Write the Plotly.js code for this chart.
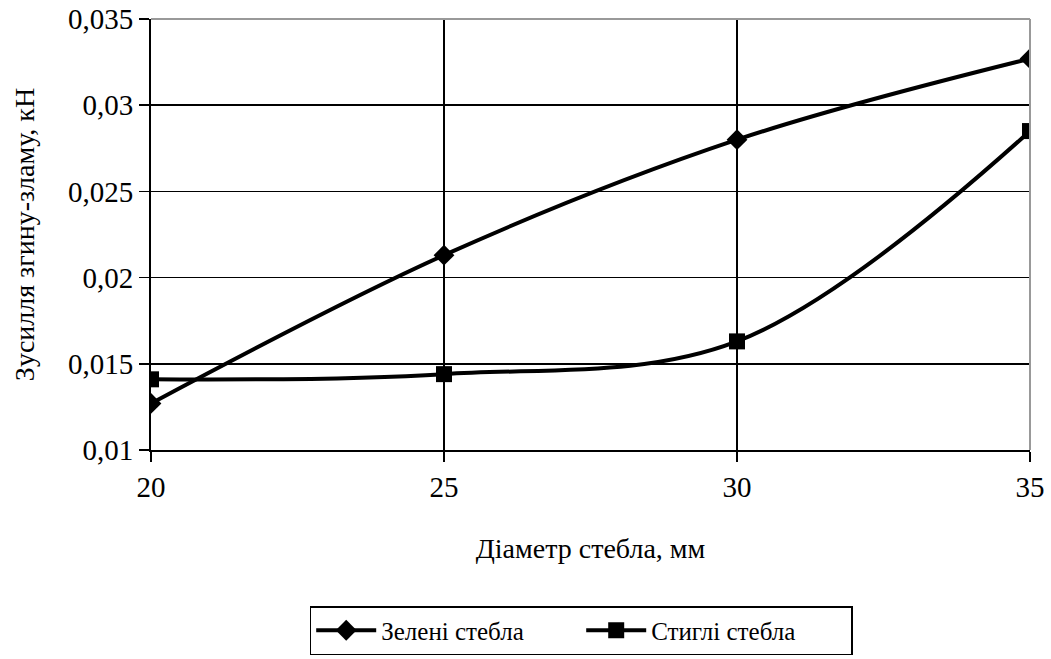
<!DOCTYPE html>
<html><head><meta charset="utf-8">
<script src="https://cdn.plot.ly/plotly-3.0.1.min.js"></script>
<style>
html,body{margin:0;padding:0;background:#fff;}
</style>
</head><body>
<div id="chart" style="width:1051px;height:659px;"></div>
<script>
const diameters = [20, 25, 30, 35];
const greenStems = [0.0127, 0.0213, 0.0280, 0.0327];
const matureStems = [0.0141, 0.0144, 0.0163, 0.0285];
const yTickVals = [0.01, 0.015, 0.02, 0.025, 0.03, 0.035];
const yTickText = ['0,01', '0,015', '0,02', '0,025', '0,03', '0,035'];
const xTickVals = [20, 25, 30, 35];

const FAM = 'Liberation Serif, Times New Roman, DejaVu Serif, serif';
function f(size) { return {family: FAM, size: size, color: '#000'}; }

const traces = [
  {x: diameters, y: greenStems, name: 'Зелені стебла', mode: 'lines+markers',
   line: {color: '#000', width: 4, shape: 'spline', smoothing: 1},
   marker: {symbol: 'diamond', size: 16, color: '#000'}},
  {x: diameters, y: matureStems, name: 'Стиглі стебла', mode: 'lines+markers',
   line: {color: '#000', width: 4, shape: 'spline', smoothing: 1},
   marker: {symbol: 'square', size: 16, color: '#000'}}
];

const layout = {
  width: 1051, height: 659,
  margin: {l: 151, r: 21, t: 19, b: 209, autoexpand: false},
  paper_bgcolor: '#fff', plot_bgcolor: '#fff',
  font: f(29),
  showlegend: true,
  legend: {orientation: 'h', x: 0.553, xanchor: 'center', xref: 'container',
    y: 0.0804, yanchor: 'top', yref: 'container',
    bordercolor: '#000', borderwidth: 1.5, font: f(25),
    itemwidth: 60, entrywidth: 195, entrywidthmode: 'pixels', tracegroupgap: 0},
  xaxis: {range: [20, 35], tickvals: xTickVals, ticktext: xTickVals.map(String),
    showgrid: true, gridcolor: '#000', gridwidth: 1.5,
    showline: true, linecolor: '#000', linewidth: 2,
    ticks: 'outside', ticklen: 10, tickwidth: 1.5, tickcolor: '#000',
    tickfont: f(29), zeroline: false, automargin: false,
    title: {text: 'Діаметр стебла, мм', font: f(28), standoff: 37}},
  yaxis: {range: [0.01, 0.035], tickvals: yTickVals, ticktext: yTickText,
    showgrid: true, gridcolor: '#000', gridwidth: 1.5,
    showline: true, linecolor: '#000', linewidth: 2,
    ticks: 'outside', ticklen: 10, tickwidth: 1.5, tickcolor: '#000',
    tickfont: f(29), zeroline: false, automargin: false,
    title: {text: 'Зусилля згину-зламу, кН', font: f(28), standoff: 25}},
  shapes: [
    {type: 'line', xref: 'paper', yref: 'paper', x0: 0, x1: 1, y0: 1, y1: 1, line: {color: '#999', width: 2}},
    {type: 'line', xref: 'paper', yref: 'paper', x0: 1, x1: 1, y0: 0, y1: 1, line: {color: '#999', width: 2}}
  ]
};

Plotly.newPlot('chart', traces, layout, {displayModeBar: false, staticPlot: true});
</script>
</body></html>
